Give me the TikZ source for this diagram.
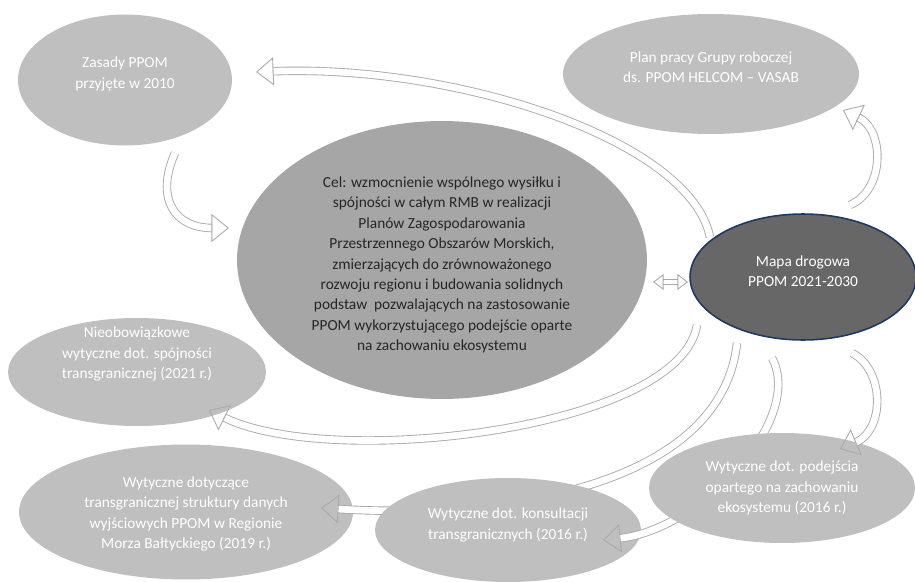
\documentclass[tikz,border=0pt]{standalone}
\usepackage{fontspec}
\setmainfont{Carlito}
\usetikzlibrary{shapes.geometric,arrows.meta}

\definecolor{ellgray}{HTML}{BFBFBF}
\definecolor{celgray}{HTML}{A6A6A6}
\definecolor{mapgray}{HTML}{676767}
\definecolor{mapedge}{HTML}{1F3864}
\definecolor{arrgray}{HTML}{A9A9A9}
\definecolor{celtext}{HTML}{262626}

\tikzset{
  bubble/.style={ellipse, fill=ellgray, inner sep=0pt},
  btext/.style={align=center, text=white, font=\fontsize{8.75}{11.6}\selectfont},
  flow/.style={draw=arrgray, line width=0.5pt, dash pattern=on 0pt off 3000pt,
    -{Triangle[open, length=10pt, width=16pt]},
    preaction={draw=arrgray, solid, -, double=white, double distance=3.8pt, shorten >=9.5pt}},
  twoway/.style={draw=arrgray, line width=0.5pt, dash pattern=on 0pt off 3000pt,
    {Triangle[open, length=6pt, width=9pt]}-{Triangle[open, length=6pt, width=9pt]},
    preaction={draw=arrgray, solid, -, double=white, double distance=2.2pt, shorten >=5.5pt, shorten <=5.5pt}},
}

\begin{document}
\begin{tikzpicture}[x=0.02cm, y=-0.02cm]
\useasboundingbox (0,0) rectangle (915,581);

% ellipses
\node[bubble, minimum width=4.28cm, minimum height=2.62cm] (zasady) at (125,80) {};
\node[btext] (zasadytxt) at (125,74) {Zasady PPOM\\przyjęte w 2010};

\node[bubble, minimum width=5.92cm, minimum height=2.40cm] (plan) at (711,74) {};
\node[btext] (plantxt) at (711,67) {Plan pracy Grupy roboczej\\ds. PPOM HELCOM -- VASAB};

\node[bubble, fill=celgray, minimum width=8.20cm, minimum height=5.56cm] (cel) at (442,260) {};
\node[btext, text=celtext] (celtxt) at (442,265) {Cel: wzmocnienie wspólnego wysiłku i\\
  spójności w całym RMB w realizacji\\
  Planów Zagospodarowania\\
  Przestrzennego Obszarów Morskich,\\
  zmierzających do zrównoważonego\\
  rozwoju regionu i budowania solidnych\\
  podstaw~ pozwalających na zastosowanie\\
  PPOM wykorzystującego podejście oparte\\
  na zachowaniu ekosystemu};

\node[bubble, fill=mapgray, draw=mapedge, line width=0.9pt, minimum width=4.52cm, minimum height=2.52cm] (mapa) at (803,277) {};
\node[btext] (mapatxt) at (803,271) {Mapa drogowa\\PPOM 2021-2030};

\node[bubble, minimum width=5.16cm, minimum height=2.16cm] (nieob) at (137,372) {};
\node[btext] (nieobtxt) at (137,354) {Nieobowiązkowe\\wytyczne dot. spójności\\transgranicznej (2021 r.)};

\node[bubble, minimum width=6.68cm, minimum height=2.70cm] (danych) at (186,512) {};
\node[btext] (danychtxt) at (186,514) {Wytyczne dotyczące\\transgranicznej struktury danych\\wyjściowych PPOM w Regionie\\Morza Bałtyckiego (2019 r.)};

% arrows
\draw[flow] ([shift={(-93,-40)}]mapa.center) .. controls +(-20,-97) and +(200,-8) .. ([shift={(131,-8)}]zasady.center);
\draw[flow] ([shift={(50,73)}]zasady.center) .. controls +(-20,45) and +(-55,0) .. ([shift={(-213,-32)}]cel.center);
\draw[flow] ([shift={(47,-72)}]mapa.center) .. controls +(35,-15) and +(42,20) .. ([shift={(132,36)}]plan.center);
\draw[twoway] ([shift={(211,22)}]cel.center) -- ([shift={(-115,5)}]mapa.center);
\draw[flow] ([shift={(-106,48)}]mapa.center) .. controls +(-17,105) and +(121,60) .. ([shift={(72,38)}]nieob.center);
\draw[flow] ([shift={(-66,66)}]mapa.center) .. controls +(-15,137) and +(199,12) .. ([shift={(135,-4)}]danych.center);

\node[bubble, minimum width=5.32cm, minimum height=2.08cm] (konsult) at (508,530) {};
\node[btext] (konsulttxt) at (508,525) {Wytyczne dot. konsultacji\\transgranicznych (2016 r.)};

\draw[flow] ([shift={(-31,81)}]mapa.center) .. controls +(33,62) and +(97,-10) .. ([shift={(95,10)}]konsult.center);

\node[bubble, minimum width=5.32cm, minimum height=2.20cm] (podejscia) at (782,488) {};
\node[btext] (podejsciatxt) at (782,488) {Wytyczne dot. podejścia\\opartego na zachowaniu\\ekosystemu (2016 r.)};

\draw[flow] ([shift={(49,76)}]mapa.center) .. controls +(33,17) and +(45,-19) .. ([shift={(58,-39)}]podejscia.center);
\end{tikzpicture}
\end{document}
